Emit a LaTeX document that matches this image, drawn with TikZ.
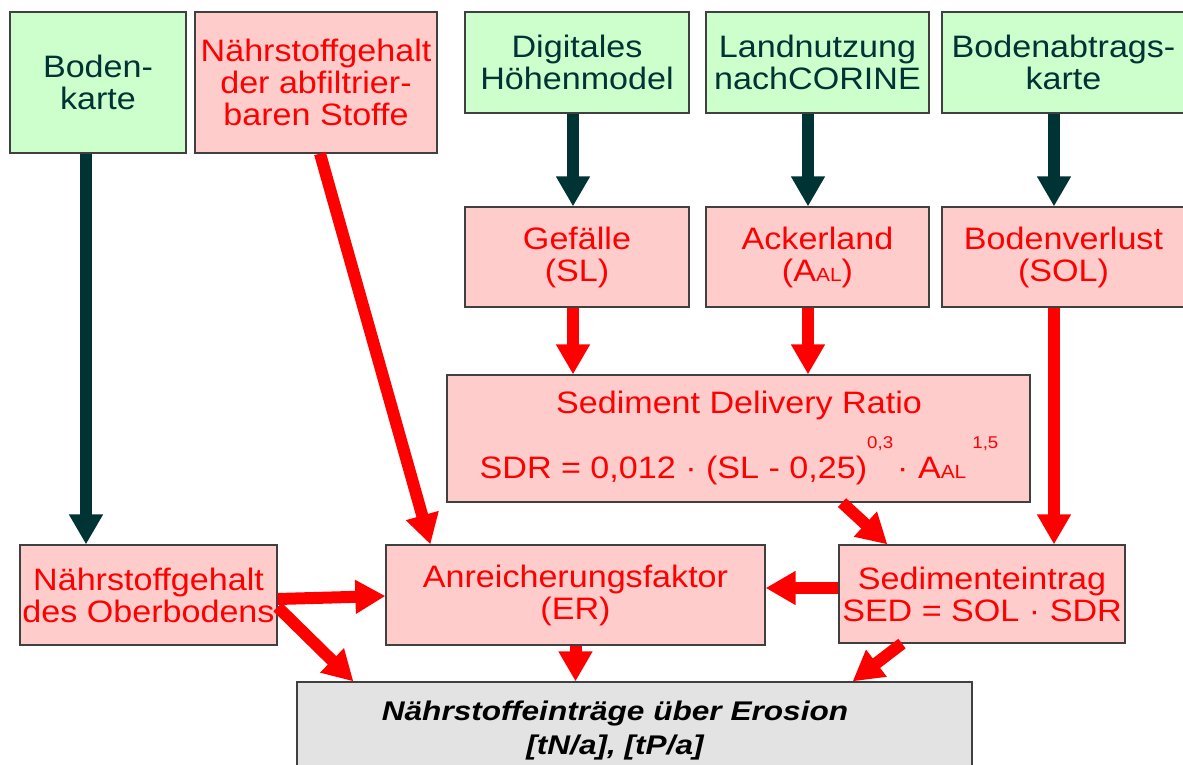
\documentclass[tikz,border=0pt]{standalone}
\usepackage{fontspec}
\setmainfont{Liberation Sans}[FakeStretch=1.1]
\newfontfamily\outfont{Liberation Sans}[FakeStretch=1.17]
\usetikzlibrary{arrows.meta,calc}
\definecolor{gfill}{HTML}{CCFFCC}
\definecolor{pfill}{HTML}{FFCCCC}
\definecolor{darkteal}{HTML}{003333}
\definecolor{greyfill}{HTML}{E3E3E3}
\definecolor{redtext}{HTML}{FF0000}
\newcommand\smallsub[1]{{\fontsize{19}{19}\selectfont #1}}
\newcommand\supnum[1]{\raisebox{30pt}{\fontsize{17}{17}\selectfont #1}}
\tikzset{
  box/.style={draw=black!75, line width=1.2pt, inner sep=0pt, align=center,
    font=\fontsize{31}{32}\selectfont},
  gbox/.style={box, fill=gfill, text=darkteal},
  pbox/.style={box, fill=pfill, text=redtext},
  obox/.style={box, fill=greyfill},
  darr/.style={draw=darkteal, line width=12pt, -{Triangle[width=32pt,length=30pt]}},
  rarr/.style={draw=redtext, line width=12pt, -{Triangle[width=32pt,length=30pt]}},
}
\begin{document}
\begin{tikzpicture}[x=1pt,y=-1pt]
\useasboundingbox (0,0) rectangle (1183,765);
\clip (0,0) rectangle (1183,765);
% top row
\node[gbox, minimum width=176pt, minimum height=141pt] (bk) at (98,82.5) {Boden-\\karte};
\node[pbox, minimum width=242pt, minimum height=141pt] (nab) at (316,82.5) {Nährstoffgehalt\\der abfiltrier-\\baren Stoffe};
\node[gbox, minimum width=224pt, minimum height=101pt] (dhm) at (577,62.5) {Digitales\\Höhenmodel};
\node[gbox, minimum width=223pt, minimum height=101pt] (lnc) at (817.5,62.5) {Landnutzung\\nachCORINE};
\node[gbox, minimum width=243pt, minimum height=101pt] (bak) at (1063.5,62.5) {Bodenabtrags-\\karte};
% second row
\node[pbox, minimum width=224pt, minimum height=100pt] (gef) at (577,257) {Gefälle\\(SL)};
\node[pbox, minimum width=223pt, minimum height=100pt] (ack) at (817.5,257) {Ackerland\\(A\smallsub{AL})};
\node[pbox, minimum width=243pt, minimum height=100pt] (bvl) at (1063.5,257) {Bodenverlust\\(SOL)};
% SDR
\node[pbox, minimum width=583pt, minimum height=127pt] (sdr) at (738.5,438.5) {};
\node[anchor=base, text=redtext, font=\fontsize{31}{32}\selectfont, inner sep=0pt] (sdrtitle) at (739,413) {Sediment Delivery Ratio};
\node[anchor=base, text=redtext, font=\fontsize{31}{32}\selectfont, inner sep=0pt] (sdrform) at (739,478)
  {SDR = 0,012 · (SL - 0,25)\supnum{0,3}\hspace{4pt}· A\smallsub{AL}\hspace{6pt}\supnum{1,5}};
% third row
\node[pbox, minimum width=257pt, minimum height=100pt] (obb) at (148.5,595) {Nährstoffgehalt\\des Oberbodens};
\node[pbox, minimum width=379pt, minimum height=100pt] (anr) at (575.5,595) {Anreicherungsfaktor\\(ER)};
\node[pbox, minimum width=286pt, minimum height=98pt] (sed) at (982,594) {Sedimenteintrag\\SED = SOL · SDR};
% output
\node[obox, minimum width=675pt, minimum height=108pt] (out) at (634.5,736) {};
\node[align=center, inner sep=0pt, font=\outfont\fontsize{27}{34}\selectfont\bfseries\itshape] (outtext) at (615,731)
  {Nährstoffeinträge über Erosion\\{}[tN/a], [tP/a]};
% arrows
\coordinate (a1) at ($(bk.south)+(-12,0)$);
\draw[darr] (a1) -- (a1 |- obb.north);
\coordinate (a3) at ($(dhm.south)+(-4,0)$);
\draw[darr] (a3) -- (a3 |- gef.north);
\coordinate (a4) at ($(lnc.south)+(-9.5,0)$);
\draw[darr] (a4) -- (a4 |- ack.north);
\coordinate (a5) at ($(bak.south)+(-9.5,0)$);
\draw[darr] (a5) -- (a5 |- bvl.north);
\draw[rarr] ($(nab.south)+(4,0)$) -- ($(anr.north west)+(45,0)$);
\coordinate (a6) at ($(gef.south)+(-4,0)$);
\draw[rarr] (a6) -- (a6 |- sdr.north);
\coordinate (a7) at ($(ack.south)+(-9.5,0)$);
\draw[rarr] (a7) -- (a7 |- sdr.north);
\coordinate (a8) at ($(bvl.south)+(-9.5,0)$);
\draw[rarr] (a8) -- (a8 |- sed.north);
\draw[rarr] ($(sdr.south)+(103.5,0)$) -- ($(sed.north west)+(49,0)$);
\draw[rarr] ($(obb.east)+(0,4)$) -- ($(anr.west)+(0,1)$);
\draw[rarr] ($(sed.west)+(0,-6)$) -- ($(anr.east)+(0,-7)$);
\draw[rarr] ($(obb.east)+(0,12)$) -- ($(out.north west)+(57,0)$);
\coordinate (a13) at (anr.south);
\draw[rarr] (a13) -- (a13 |- out.north);
\draw[rarr] ($(sed.south)+(-80,0)$) -- ($(out.north east)+(-120,0)$);
\end{tikzpicture}
\end{document}
